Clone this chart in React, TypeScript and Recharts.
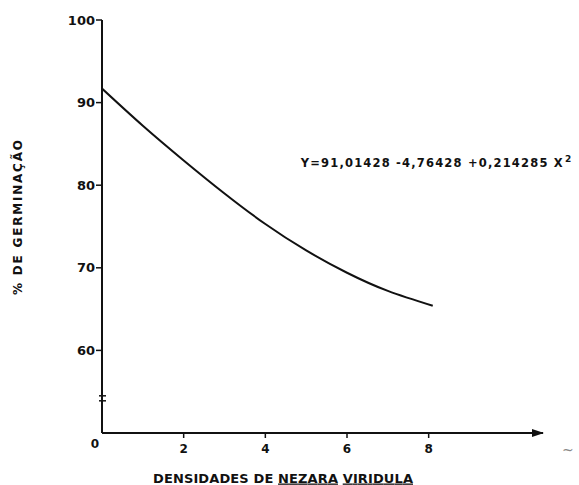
import React from 'react';
import { LineChart, Line, XAxis, YAxis } from 'recharts';

// Germination curve.
const densidades = [0, 1, 2, 3, 4, 5, 6, 7, 8.1];
const germinacao = [91.7, 87.2, 83.0, 79.0, 75.3, 72.1, 69.4, 67.2, 65.4];

const xTicks = [0, 2, 4, 6, 8];
const yBreak = 54.2;
const yTicks = [yBreak, 60, 70, 80, 90, 100];

const data = densidades.map((x, i) => ({ x, y: germinacao[i] }));

const FONT = "'DejaVu Sans', sans-serif";
const INK = '#111';

function XTick(props: any) {
  const { x, y, payload } = props;
  const v = payload.value;
  if (v === 0) {
    return (
      <text x={x - 7} y={y + 15} textAnchor="middle" fontFamily={FONT} fontWeight="bold" fontSize={12} fill={INK}>
        0
      </text>
    );
  }
  return (
    <g>
      <line x1={x} y1={y} x2={x} y2={y + 5} stroke={INK} strokeWidth={1.5} />
      <text x={x} y={y + 20} textAnchor="middle" fontFamily={FONT} fontWeight="bold" fontSize={12} fill={INK}>
        {v}
      </text>
    </g>
  );
}

function YTick(props: any) {
  const { x, y, payload } = props;
  const v = payload.value;
  if (v === yBreak) {
    // axis break mark
    return (
      <g stroke={INK} strokeWidth={1.5}>
        <line x1={x - 3} y1={y - 2.5} x2={x + 4} y2={y - 2.5} />
        <line x1={x - 3} y1={y + 2.5} x2={x + 4} y2={y + 2.5} />
      </g>
    );
  }
  return (
    <g>
      <line x1={x - 6} y1={y} x2={x} y2={y} stroke={INK} strokeWidth={1.5} />
      <text x={x - 7} y={y + 4.5} textAnchor="end" fontFamily={FONT} fontWeight="bold" fontSize={13} fill={INK}>
        {v}
      </text>
    </g>
  );
}

export default function App() {
  return (
    <div style={{ position: 'absolute', left: 0, top: 0, width: 579, height: 485, background: '#fff' }}>
      <LineChart width={579} height={485} data={data} margin={{ top: 20, right: 36, bottom: 51, left: 101 }}>
        <defs>
          <marker id="arrow" viewBox="0 0 12 8" markerWidth={12} markerHeight={8} refX={11} refY={4} orient="auto" markerUnits="userSpaceOnUse">
            <path d="M0,0 L12,4 L0,8 z" fill={INK} />
          </marker>
        </defs>
        <XAxis
          dataKey="x"
          type="number"
          domain={[0, 10.8]}
          ticks={xTicks}
          height={1}
          tickSize={0}
          tickMargin={0}
          tickLine={false}
          tick={<XTick />}
          axisLine={{ stroke: INK, strokeWidth: 2, markerEnd: 'url(#arrow)' }}
          allowDataOverflow
        />
        <YAxis
          type="number"
          domain={[50, 100]}
          ticks={yTicks}
          width={1}
          tickSize={0}
          tickMargin={0}
          tickLine={false}
          tick={<YTick />}
          axisLine={{ stroke: INK, strokeWidth: 2 }}
          allowDataOverflow
        />
        <Line
          dataKey="y"
          type="natural"
          stroke={INK}
          strokeWidth={2}
          dot={false}
          isAnimationActive={false}
        />
        <text x={300.7} y={167.3} textLength={262} lengthAdjust="spacing" fontFamily={FONT} fontWeight="bold" fontSize={11.5} fill={INK}>
          Y=91,01428 -4,76428 +0,214285 X
        </text>
        <text x={565} y={161.7} fontFamily={FONT} fontWeight="bold" fontSize={9} fill={INK}>
          2
        </text>
        <text
          transform="translate(22, 295) rotate(-90)"
          x={0}
          y={0}
          textLength={155}
          lengthAdjust="spacing"
          fontFamily={FONT}
          fontWeight="bold"
          fontSize={12}
          fill={INK}
        >
          % DE GERMINAÇÃO
        </text>
        <text x={153} y={482.5} textLength={260} lengthAdjust="spacing" fontFamily={FONT} fontWeight="bold" fontSize={13} fill={INK}>
          DENSIDADES DE <tspan style={{ textDecoration: 'underline' }}>NEZARA</tspan> <tspan style={{ textDecoration: 'underline' }}>VIRIDULA</tspan>
        </text>
        <text x={562} y={455} fontFamily={FONT} fontSize={14} fill="#888">
          ~
        </text>
      </LineChart>
    </div>
  );
}
